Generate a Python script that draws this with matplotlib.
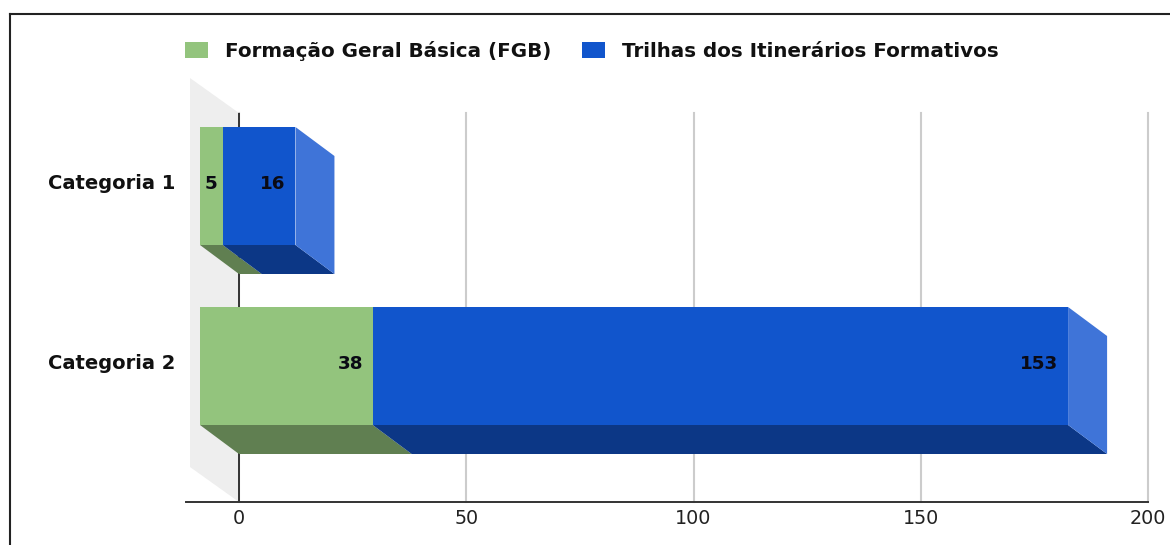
import matplotlib
matplotlib.use("Agg")
import matplotlib.pyplot as plt
from matplotlib.lines import Line2D
from matplotlib.patches import Patch, Polygon
from matplotlib.transforms import ScaledTranslation

plt.rcParams['font.family'] = ['DejaVu Sans']

categories = ["Categoria 1", "Categoria 2"]
fgb = [5, 38]
trilhas = [16, 153]
series_names = ["Formação Geral Básica (FGB)", "Trilhas dos Itinerários Formativos"]
x_ticks = [0, 50, 100, 150, 200]

W, H = 1170, 545
PX_PER_UNIT = 4.545
PX_PER_CAT = 180

# profundidade do efeito 3D
depth_x = 39 / PX_PER_UNIT
depth_y = 29 / PX_PER_CAT
bar_h = 118 / PX_PER_CAT

green = ("#93C47D", "#607F51")
blue = ("#1155CC", "#3F74D8", "#0C3786")

fig = plt.figure(figsize=(W / 100, H / 100), dpi=100)
ax = fig.add_axes([186 / W, 1 - 502 / H, (1148 - 186) / W, (502 - 113) / H])
ax.set_xlim((186 - 239) / PX_PER_UNIT, 200)
ax.set_ylim((502 - 186) / PX_PER_CAT, (113 - 186) / PX_PER_CAT)

for s in ["top", "left", "right"]:
    ax.spines[s].set_visible(False)
ax.spines["bottom"].set_color("#333333")
ax.spines["bottom"].set_linewidth(1.4)

ax.set_xticks(x_ticks)
ax.set_xticklabels([str(t) for t in x_ticks])
ax.set_yticks(range(len(categories)))
ax.set_yticklabels(categories, fontweight="bold", fontsize=14)
ax.tick_params(axis="x", length=0, pad=5, labelsize=13.8, labelcolor="#222222")
ax.tick_params(axis="y", length=0, pad=8, labelcolor="#111111")
ax.grid(axis="x", color="#CCCCCC", linewidth=1.5, zorder=0)
ax.set_axisbelow(True)
for line in ax.get_xgridlines():
    line.set_clip_on(False)

# sobe um pouco os rotulos das categorias
shift_up = ScaledTranslation(0, 3 / 72, fig.dpi_scale_trans)
for lab in ax.get_yticklabels():
    lab.set_transform(lab.get_transform() + shift_up)

# parede cinza atras do eixo
y0, y1 = ax.get_ylim()[1], ax.get_ylim()[0]
wall_x = -49 / PX_PER_UNIT
ax.add_patch(Polygon([(wall_x, y0 - 35 / PX_PER_CAT), (0, y0), (0, y1), (wall_x, y1 - 35 / PX_PER_CAT)],
                     closed=True, facecolor="#EEEEEE", edgecolor="none", zorder=1, clip_on=False))
ax.axvline(0, color="#333333", linewidth=1.4, zorder=2)


def draw_seg(cat, start, end, front, side=None, under=None):
    top = cat - bar_h / 2
    bot = cat + bar_h / 2
    a = start - depth_x
    b = end - depth_x
    if under:
        ax.add_patch(Polygon([(a, bot), (b, bot), (end, bot + depth_y), (start, bot + depth_y)],
                             facecolor=under, edgecolor="none", zorder=3))
    if side:
        ax.add_patch(Polygon([(b, top), (end, top + depth_y), (end, bot + depth_y), (b, bot)],
                             facecolor=side, edgecolor="none", zorder=3))
    ax.add_patch(Polygon([(a, top), (b, top), (b, bot), (a, bot)],
                         facecolor=front, edgecolor="none", zorder=4))


def value_label(cat, end, val):
    x = end - depth_x
    if val < 10:
        ax.annotate(str(val), (x - val / 2, cat), xytext=(0, 1.5), textcoords="offset points",
                    ha="center", va="center", fontweight="bold", fontsize=13.2,
                    color="#0A0A14", zorder=5)
    else:
        ax.annotate(str(val), (x, cat), xytext=(-7, 1.5), textcoords="offset points",
                    ha="right", va="center", fontweight="bold", fontsize=13.2,
                    color="#0A0A14", zorder=5)


for i in range(len(categories)):
    draw_seg(i, 0, fgb[i], green[0], under=green[1])
    draw_seg(i, fgb[i], fgb[i] + trilhas[i], blue[0], side=blue[1], under=blue[2])
    value_label(i, fgb[i], fgb[i])
    value_label(i, fgb[i] + trilhas[i], trilhas[i])

handles = [Patch(facecolor=green[0], edgecolor="none"), Patch(facecolor=blue[0], edgecolor="none")]
fig.legend(handles, series_names, ncols=2, frameon=False,
           loc="center left", bbox_to_anchor=(185 / W, 1 - 51 / H), borderpad=0, borderaxespad=0,
           prop={"weight": "bold", "size": 14.3}, labelcolor="#111111",
           handlelength=1.16, handleheight=0.85, handletextpad=0.85, columnspacing=1.56)

# moldura da imagem (so topo e esquerda)
fig.add_artist(Line2D([10 / W, 10 / W], [0, 1 - 14 / H], color="#222222", linewidth=1.5))
fig.add_artist(Line2D([10 / W, 1], [1 - 14 / H, 1 - 14 / H], color="#222222", linewidth=1.5))

fig.savefig("out.png", dpi=100)
